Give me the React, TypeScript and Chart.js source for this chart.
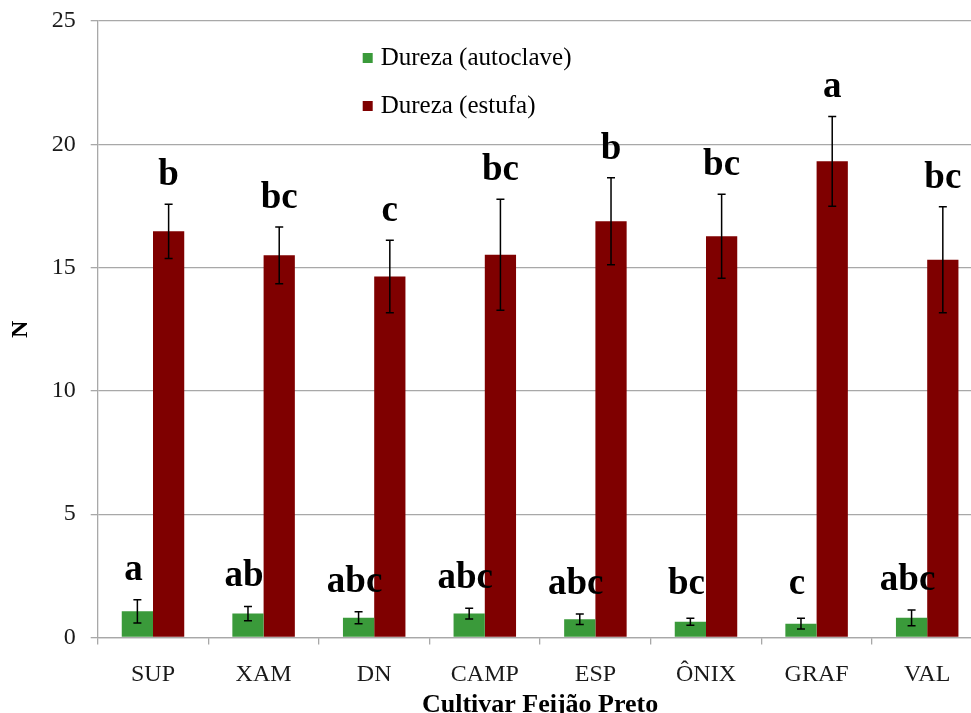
import React, { useEffect, useRef } from 'react';
import { Chart, registerables } from 'chart.js';

Chart.register(...registerables);

const categories = ['SUP', 'XAM', 'DN', 'CAMP', 'ESP', 'ÔNIX', 'GRAF', 'VAL'];
const autoclave = [1.06, 0.97, 0.8, 0.97, 0.74, 0.64, 0.56, 0.8];
const autoclaveErr = [0.47, 0.29, 0.24, 0.22, 0.21, 0.14, 0.22, 0.32];
const estufa = [16.47, 15.5, 14.64, 15.52, 16.88, 16.27, 19.31, 15.32];
const estufaErr = [1.1, 1.15, 1.47, 2.25, 1.76, 1.7, 1.82, 2.15];
const autoclaveLetters = ['a', 'ab', 'abc', 'abc', 'abc', 'bc', 'c', 'abc'];
const estufaLetters = ['b', 'bc', 'c', 'bc', 'b', 'bc', 'a', 'bc'];
const yTicks = [0, 5, 10, 15, 20, 25];
const seriesNames = ['Dureza (autoclave)', 'Dureza (estufa)'];
const xTitle = 'Cultivar Feijão Preto';
const yTitle = 'N';

const SERIF = '"Liberation Serif", "Times New Roman", serif';
const GREEN = '#3a9a3a';
const RED = '#7f0000';
const GRID = '#a8a8a8';

export default function App() {
  const ref = useRef<HTMLCanvasElement>(null);

  useEffect(() => {
    if (!ref.current) return;

    const annotate = {
      id: 'annotate',
      afterDatasetsDraw(chart: any) {
        const ctx = chart.ctx as CanvasRenderingContext2D;
        const y = chart.scales.y;
        const series = [
          { vals: autoclave, errs: autoclaveErr, letters: autoclaveLetters },
          { vals: estufa, errs: estufaErr, letters: estufaLetters },
        ];
        ctx.save();
        series.forEach((s, di) => {
          const meta = chart.getDatasetMeta(di);
          meta.data.forEach((bar: any, i: number) => {
            const x = bar.x;
            const top = y.getPixelForValue(s.vals[i] + s.errs[i]);
            const bot = y.getPixelForValue(s.vals[i] - s.errs[i]);
            ctx.strokeStyle = '#000';
            ctx.lineWidth = 1.5;
            ctx.beginPath();
            ctx.moveTo(x, top);
            ctx.lineTo(x, bot);
            ctx.moveTo(x - 4, top);
            ctx.lineTo(x + 4, top);
            ctx.moveTo(x - 4, bot);
            ctx.lineTo(x + 4, bot);
            ctx.stroke();

            ctx.font = `bold 37px ${SERIF}`;
            ctx.fillStyle = '#000';
            ctx.textAlign = 'center';
            ctx.textBaseline = 'alphabetic';
            let by: number;
            if (di === 1) by = top - 19;
            else by = Math.min(y.getPixelForValue(0) - 44, top - 20);
            ctx.fillText(s.letters[i], di === 0 ? x - 4 : x, by);
          });
        });
        ctx.restore();
      },
      afterDraw(chart: any) {
        const ctx = chart.ctx as CanvasRenderingContext2D;
        const area = chart.chartArea;
        ctx.save();
        // legend
        const lx = area.left + 265;
        const rows = [65, 113];
        const cols = [GREEN, RED];
        ctx.font = `25px ${SERIF}`;
        ctx.textAlign = 'left';
        ctx.textBaseline = 'alphabetic';
        rows.forEach((ry, i) => {
          ctx.fillStyle = cols[i];
          ctx.fillRect(lx, ry - 12, 10, 10);
          ctx.fillStyle = '#000';
          ctx.fillText(seriesNames[i], lx + 18, ry);
        });
        // axis titles
        ctx.font = `bold 26px ${SERIF}`;
        ctx.textAlign = 'center';
        ctx.fillText(xTitle, (area.left + area.right) / 2, 712);
        ctx.translate(21, (area.top + area.bottom) / 2);
        ctx.rotate(-Math.PI / 2);
        ctx.font = `bold 24px ${SERIF}`;
        ctx.textBaseline = 'middle';
        ctx.fillText(yTitle, 0, 0);
        ctx.restore();
      },
    };

    const chart = new Chart(ref.current, {
      type: 'bar',
      data: {
        labels: categories,
        datasets: [
          { label: seriesNames[0], data: autoclave, backgroundColor: GREEN, barPercentage: 1, categoryPercentage: 0.565 },
          { label: seriesNames[1], data: estufa, backgroundColor: RED, barPercentage: 1, categoryPercentage: 0.565 },
        ],
      },
      options: {
        animation: false,
        responsive: false,
        maintainAspectRatio: false,
        layout: { padding: { top: 21, left: 0, right: 17.5, bottom: 0 } },
        plugins: { legend: { display: false }, tooltip: { enabled: false }, title: { display: false } },
        scales: {
          x: {
            afterFit: (scale: any) => { scale.height = 75.5; scale.paddingLeft = 0; scale.paddingRight = 0; },
            grid: { display: true, drawOnChartArea: false, drawTicks: true, tickLength: 7, offset: true, color: GRID, lineWidth: 1.3 },
            border: { display: true, color: GRID, width: 1.3 },
            ticks: { font: { family: SERIF, size: 24 }, color: '#1a1a1a', padding: 16, maxRotation: 0, autoSkip: false },
          },
          y: {
            min: 0,
            max: 25,
            afterFit: (scale: any) => { scale.width = 97.7; scale.paddingTop = 0; scale.paddingBottom = 0; },
            afterBuildTicks: (scale: any) => { scale.ticks = yTicks.map((v) => ({ value: v })); },
            grid: { color: GRID, lineWidth: 1.3, tickLength: 7 },
            border: { display: true, color: GRID, width: 1.3 },
            ticks: { font: { family: SERIF, size: 24 }, color: '#1a1a1a', padding: 15 },
          },
        },
      },
      plugins: [annotate],
    });
    return () => chart.destroy();
  }, []);

  return (
    <div style={{ position: 'fixed', left: 0, top: 0, width: 971, height: 713, overflow: 'hidden', background: '#fff' }}>
      <canvas ref={ref} width={1000} height={713} style={{ display: 'block', width: 1000, height: 713 }} />
    </div>
  );
}
